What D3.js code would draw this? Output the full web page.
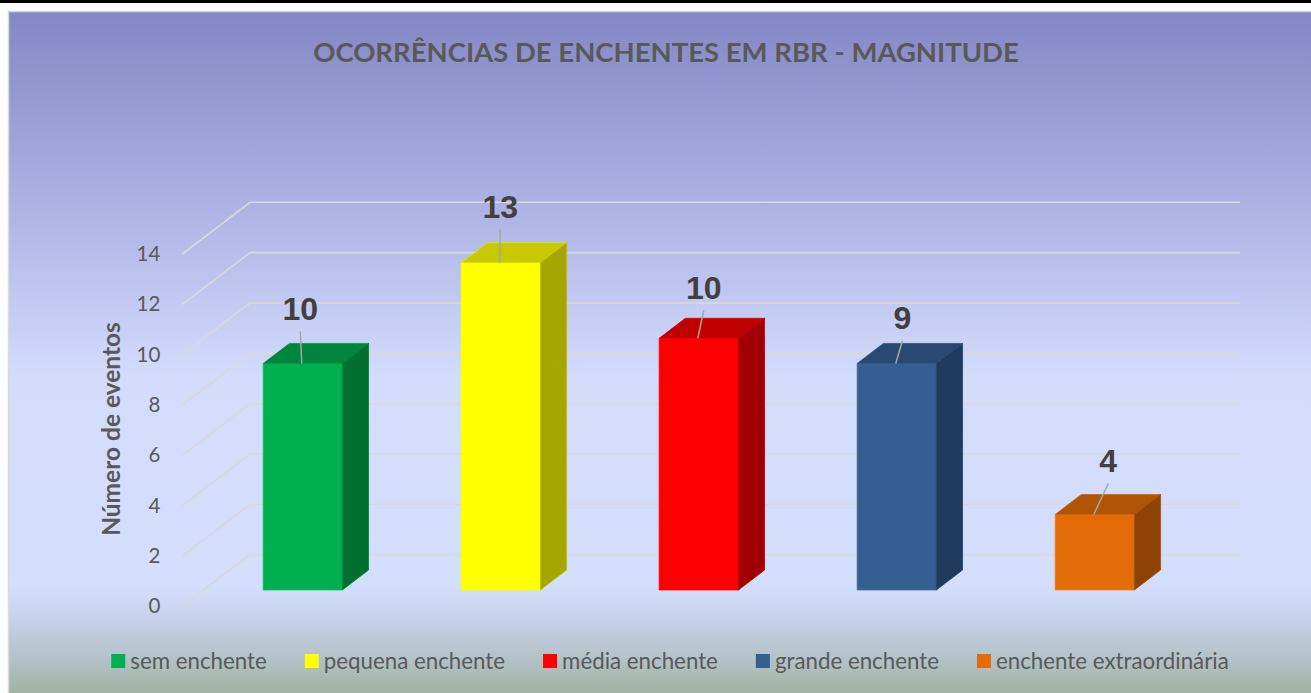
<!DOCTYPE html>
<html>
<head>
<meta charset="utf-8">
<script src="https://cdn.jsdelivr.net/npm/d3@7"></script>
<style>
  html, body { margin: 0; padding: 0; background: #fff; }
  svg { display: block; }
</style>
</head>
<body>
<div id="chart"></div>
<script>
// ====================
// Data
// ====================
const categories = ["sem enchente", "pequena enchente", "média enchente", "grande enchente", "enchente extraordinária"];
// bar heights as drawn, and the data labels printed above them
const barValues  = [9, 13, 10, 9, 3];
const barLabels  = ["10", "13", "10", "9", "4"];
const yTicks     = [0, 2, 4, 6, 8, 10, 12, 14];

const chartTitle = "OCORRÊNCIAS DE ENCHENTES EM RBR - MAGNITUDE";
const yTitle     = "Número de eventos";

// ====================
// Layout / style
// ====================
const width = 1311, height = 693;
const DX = 67.7, DY = -51.7;          // depth vector of the 3D box
const D0 = 0.317, D1 = 0.704;          // bar depth (front, back) as fraction of box depth
const frontColors = ["#00B050", "#FFFF00", "#FF0000", "#355F91", "#E36C09"];
const topColors   = ["#00853F", "#C8C800", "#C00000", "#284A72", "#B05406"];
const sideColors  = ["#006F30", "#A6A600", "#A00000", "#1F3A5C", "#8E4304"];
// label nudges relative to bar top-front centre
const labelNudge  = [[-2.5, -43], [-0.5, -45], [5, -39], [5.7, -34], [13.5, -42]];

const svg = d3.select("#chart").append("svg")
    .attr("width", width)
    .attr("height", height);

// background gradient
const defs = svg.append("defs");
const grad = defs.append("linearGradient")
    .attr("id", "bg")
    .attr("gradientUnits", "userSpaceOnUse")
    .attr("x1", 0).attr("y1", 11).attr("x2", 0).attr("y2", 693);
[[11, "#8387C5"], [120, "#9A9FD5"], [250, "#B6BDEB"], [380, "#D3DDFB"],
 [585, "#D4DFFD"], [615, "#C8D3EE"], [660, "#B2C2C6"], [693, "#A0B3A4"]]
    .forEach(([y, c]) => grad.append("stop")
        .attr("offset", ((y - 11) / 682 * 100) + "%")
        .attr("stop-color", c));

svg.append("rect").attr("x", 0).attr("y", 0).attr("width", width).attr("height", 3).attr("fill", "#000");
svg.append("rect")
    .attr("x", 8.5).attr("y", 11.5)
    .attr("width", width + 20).attr("height", height)
    .attr("fill", "url(#bg)")
    .attr("stroke", "#D9D9D9")
    .attr("stroke-width", 1.5);

// scales (front plane of the box)
const x = d3.scaleBand()
    .domain(categories)
    .range([182.3, 1172.3])
    .paddingInner(0.6)
    .paddingOuter(0.3);

const y = d3.scaleLinear()
    .domain([0, 14])
    .range([606.4, 254]);

// gridlines: back wall + left wall diagonals
const grid = svg.append("g")
    .attr("stroke", "#D9D9D9")
    .attr("stroke-width", 1.6)
    .attr("fill", "none");

grid.selectAll("line.back")
    .data(yTicks)
    .join("line")
    .attr("class", "back")
    .attr("x1", x.range()[0] + DX).attr("x2", x.range()[1] + DX)
    .attr("y1", d => y(d) + DY).attr("y2", d => y(d) + DY);

grid.selectAll("line.side")
    .data(yTicks)
    .join("line")
    .attr("class", "side")
    .attr("x1", x.range()[0]).attr("x2", x.range()[0] + DX)
    .attr("y1", d => y(d)).attr("y2", d => y(d) + DY);

// y axis labels
const yAxis = svg.append("g")
    .attr("transform", `translate(${x.range()[0]},0)`)
    .call(d3.axisLeft(y).tickValues(yTicks).tickSize(0).tickPadding(22));
yAxis.select(".domain").remove();
yAxis.selectAll("text")
    .attr("fill", "#595959")
    .style("font-family", "Lato, 'Open Sans', sans-serif")
    .style("font-size", "20.5px");

// y axis title
svg.append("text")
    .attr("transform", "translate(120,429) rotate(-90)")
    .attr("text-anchor", "middle")
    .attr("fill", "#595959")
    .style("font-family", "Lato, 'Open Sans', sans-serif")
    .style("font-weight", "bold")
    .style("font-size", "24.5px")
    .text(yTitle);

// title
svg.append("text")
    .attr("x", 666).attr("y", 62)
    .attr("text-anchor", "middle")
    .attr("fill", "#595959")
    .style("font-family", "Lato, 'Open Sans', sans-serif")
    .style("font-weight", "bold")
    .style("font-size", "27.5px")
    .text(chartTitle);

// bars
const bw = x.bandwidth();
const dd = D1 - D0;
const bars = barValues.map((v, i) => {
    const c = categories[i];
    const x0 = x(c) + D0 * DX, x1 = x0 + bw;
    const yb = y(0) + D0 * DY, yt = y(v) + D0 * DY;
    return { i, v, x0, x1, yb, yt };
});

const barG = svg.append("g").selectAll("g")
    .data(bars)
    .join("g");

barG.append("polygon")
    .attr("points", d => [[d.x0, d.yb], [d.x1, d.yb], [d.x1, d.yt], [d.x0, d.yt]].join(" "))
    .attr("fill", d => frontColors[d.i])
    .attr("stroke", d => d3.color(frontColors[d.i]).brighter(0.4))
    .attr("stroke-width", 0.8);

barG.append("polygon")
    .attr("points", d => [[d.x0, d.yt], [d.x1, d.yt], [d.x1 + dd * DX, d.yt + dd * DY], [d.x0 + dd * DX, d.yt + dd * DY]].join(" "))
    .attr("fill", d => topColors[d.i])
    .attr("stroke", d => d3.color(topColors[d.i]).brighter(0.4))
    .attr("stroke-width", 0.8);

barG.append("polygon")
    .attr("points", d => [[d.x1, d.yt], [d.x1 + dd * DX, d.yt + dd * DY], [d.x1 + dd * DX, d.yb + dd * DY], [d.x1, d.yb]].join(" "))
    .attr("fill", d => sideColors[d.i])
    .attr("stroke", d => d3.color(sideColors[d.i]).brighter(0.4))
    .attr("stroke-width", 0.8);

// data labels with leader lines
barG.append("line")
    .attr("x1", d => (d.x0 + d.x1) / 2 + labelNudge[d.i][0])
    .attr("y1", d => d.yt + labelNudge[d.i][1] + 11)
    .attr("x2", d => (d.x0 + d.x1) / 2 - 1)
    .attr("y2", d => d.yt)
    .attr("stroke", "#A6A6A6")
    .attr("stroke-width", 1.5);

barG.append("text")
    .attr("x", d => (d.x0 + d.x1) / 2 + labelNudge[d.i][0])
    .attr("y", d => d.yt + labelNudge[d.i][1])
    .attr("text-anchor", "middle")
    .attr("fill", "#404040")
    .style("font-family", "'Liberation Sans', Arial, sans-serif")
    .style("font-weight", "bold")
    .style("font-size", "32px")
    .text(d => barLabels[d.i]);

// legend
const legend = svg.append("g");
let lx = 0;
categories.forEach((c, i) => {
    const g = legend.append("g").attr("transform", `translate(${lx},0)`);
    g.append("rect")
        .attr("x", 0).attr("y", -7)
        .attr("width", 14).attr("height", 14)
        .attr("fill", frontColors[i]);
    const t = g.append("text")
        .attr("x", 19).attr("y", 0)
        .attr("dy", "0.35em")
        .attr("fill", "#595959")
        .style("font-family", "Lato, 'Open Sans', sans-serif")
        .style("font-size", "22.3px")
        .text(c);
    lx += 19 + t.node().getComputedTextLength() + 38;
});
const legendW = lx - 38;
legend.attr("transform", `translate(${670 - legendW / 2},661)`);
</script>
</body>
</html>
